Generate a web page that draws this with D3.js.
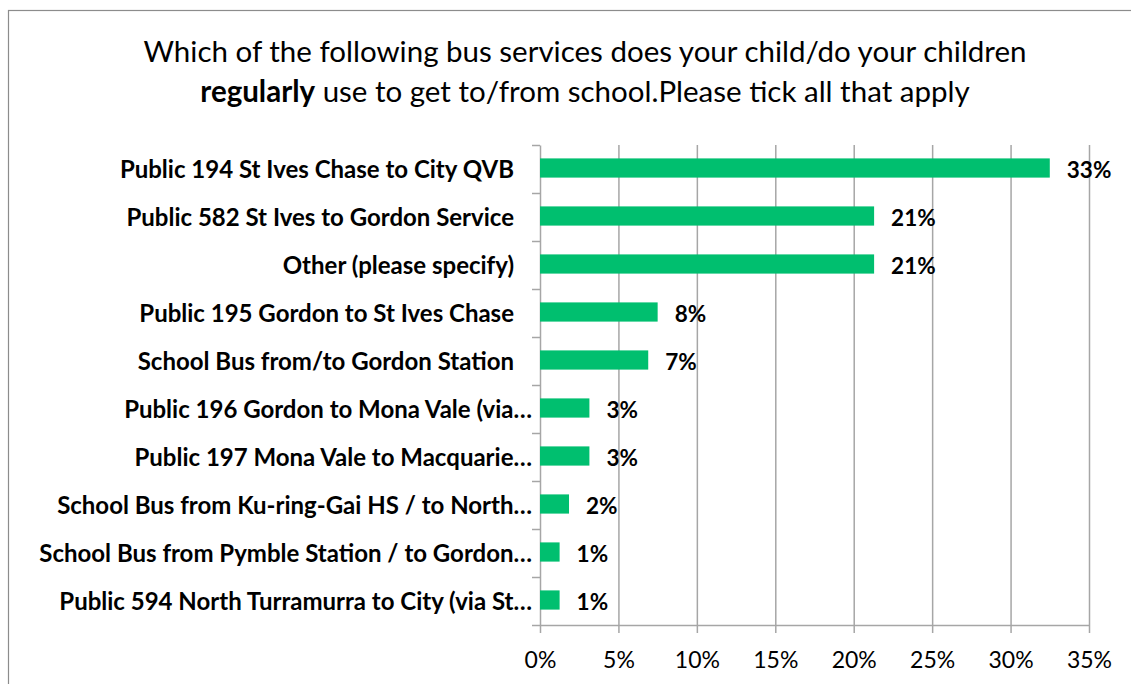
<!DOCTYPE html>
<html>
<head>
<meta charset="utf-8">
<script src="https://cdn.jsdelivr.net/npm/d3@7"></script>
<style>
  html, body { margin: 0; padding: 0; background: #fff; }
  svg { display: block; font-family: Lato, "Open Sans", sans-serif; }
</style>
</head>
<body>
<svg id="chart" width="1131" height="684"></svg>
<script>
(function() {
  'use strict';

  var categories = [
    "Public 194 St Ives Chase to City QVB",
    "Public 582 St Ives to Gordon Service",
    "Other (please specify)",
    "Public 195 Gordon to St Ives Chase",
    "School Bus from/to Gordon Station",
    "Public 196 Gordon to Mona Vale (via…",
    "Public 197 Mona Vale to Macquarie…",
    "School Bus from Ku-ring-Gai HS / to North…",
    "School Bus from Pymble Station / to Gordon…",
    "Public 594 North Turramurra to City (via St…"
  ];
  var values = [32.5, 21.3, 21.3, 7.5, 6.9, 3.15, 3.15, 1.85, 1.25, 1.25];
  var valueLabels = ["33%", "21%", "21%", "8%", "7%", "3%", "3%", "2%", "1%", "1%"];
  var xTicks = [0, 5, 10, 15, 20, 25, 30, 35];
  var titleLine1 = "Which of the following bus services does your child/do your children";
  var titleBold = "regularly";
  var titleRest = " use to get to/from school.Please tick all that apply";

  var svg = d3.select("#chart"),
    left = 540, right = 1089, top = 145, bottom = 625,
    gridColor = "#a6a6a6", barColor = "#00bf6f";

  // outer frame, only left and top edges are visible
  svg.append("rect")
    .attr("x", 8.5).attr("y", 10.5)
    .attr("width", 1300).attr("height", 900)
    .attr("fill", "none")
    .attr("stroke", "#8c8c8c")
    .attr("stroke-width", 1.2);

  // title
  var title = svg.append("text")
    .attr("text-anchor", "middle")
    .attr("font-size", 29.5)
    .attr("fill", "#000");
  title.append("tspan").attr("x", 585).attr("y", 62).text(titleLine1);
  var l2 = title.append("tspan").attr("x", 585).attr("y", 102);
  l2.append("tspan").attr("font-weight", "bold").text(titleBold);
  l2.append("tspan").text(titleRest);

  var x = d3.scaleLinear().domain([0, 35]).range([left, right]);
  var y = d3.scaleBand().domain(categories).range([top, bottom])
    .paddingInner(0.6).paddingOuter(0.3);
  var yIdx = d3.scaleLinear().domain([0, categories.length]).range([top, bottom]);

  // vertical gridlines
  svg.append("g")
    .attr("transform", "translate(0," + top + ")")
    .call(d3.axisBottom(x).tickValues(xTicks.slice(1)).tickSize(bottom - top).tickFormat(""))
    .call(function(g) {
      g.select(".domain").remove();
      g.selectAll("line").attr("stroke", gridColor).attr("stroke-width", 1.5);
    });

  // x axis
  svg.append("g")
    .attr("transform", "translate(0," + bottom + ")")
    .call(d3.axisBottom(x).tickValues(xTicks).tickSize(8).tickSizeOuter(0).tickPadding(19)
      .tickFormat(function(d) { return d + "%"; }))
    .call(function(g) {
      g.select(".domain").attr("stroke", gridColor).attr("stroke-width", 1.5);
      g.selectAll("line").attr("stroke", gridColor).attr("stroke-width", 1.5);
      g.selectAll("text").attr("font-size", 23).attr("fill", "#000")
        .attr("font-family", "Lato, 'Open Sans', sans-serif");
    });

  // y axis with ticks between categories
  svg.append("g")
    .attr("transform", "translate(" + left + ",0)")
    .call(d3.axisLeft(yIdx).ticks(categories.length).tickSize(8).tickSizeOuter(0).tickFormat(""))
    .call(function(g) {
      g.select(".domain").attr("stroke", gridColor).attr("stroke-width", 1.5);
      g.selectAll("line").attr("stroke", gridColor).attr("stroke-width", 1.5);
    });

  // category labels (untruncated ones sit a little further from the axis)
  svg.append("g").selectAll("text")
    .data(categories)
    .enter().append("text")
      .attr("x", function(d) { return d.slice(-1) === "…" ? left - 8 : left - 26; })
      .attr("y", function(d) { return y(d) + y.bandwidth() / 2; })
      .attr("dy", "0.36em")
      .attr("text-anchor", "end")
      .attr("font-size", 24)
      .attr("font-weight", "bold")
      .attr("fill", "#000")
      .text(function(d) { return d; });

  // bars
  svg.append("g").selectAll("rect")
    .data(values)
    .enter().append("rect")
      .attr("x", x(0))
      .attr("y", function(d, i) { return y(categories[i]) - 1; })
      .attr("width", function(d) { return x(d) - x(0); })
      .attr("height", y.bandwidth())
      .attr("fill", barColor);

  // value labels
  svg.append("g").selectAll("text")
    .data(values)
    .enter().append("text")
      .attr("x", function(d) { return x(d) + 17; })
      .attr("y", function(d, i) { return y(categories[i]) + y.bandwidth() / 2; })
      .attr("dy", "0.4em")
      .attr("font-size", 22.5)
      .attr("font-weight", "bold")
      .attr("fill", "#000")
      .text(function(d, i) { return valueLabels[i]; });
}());
</script>
</body>
</html>
